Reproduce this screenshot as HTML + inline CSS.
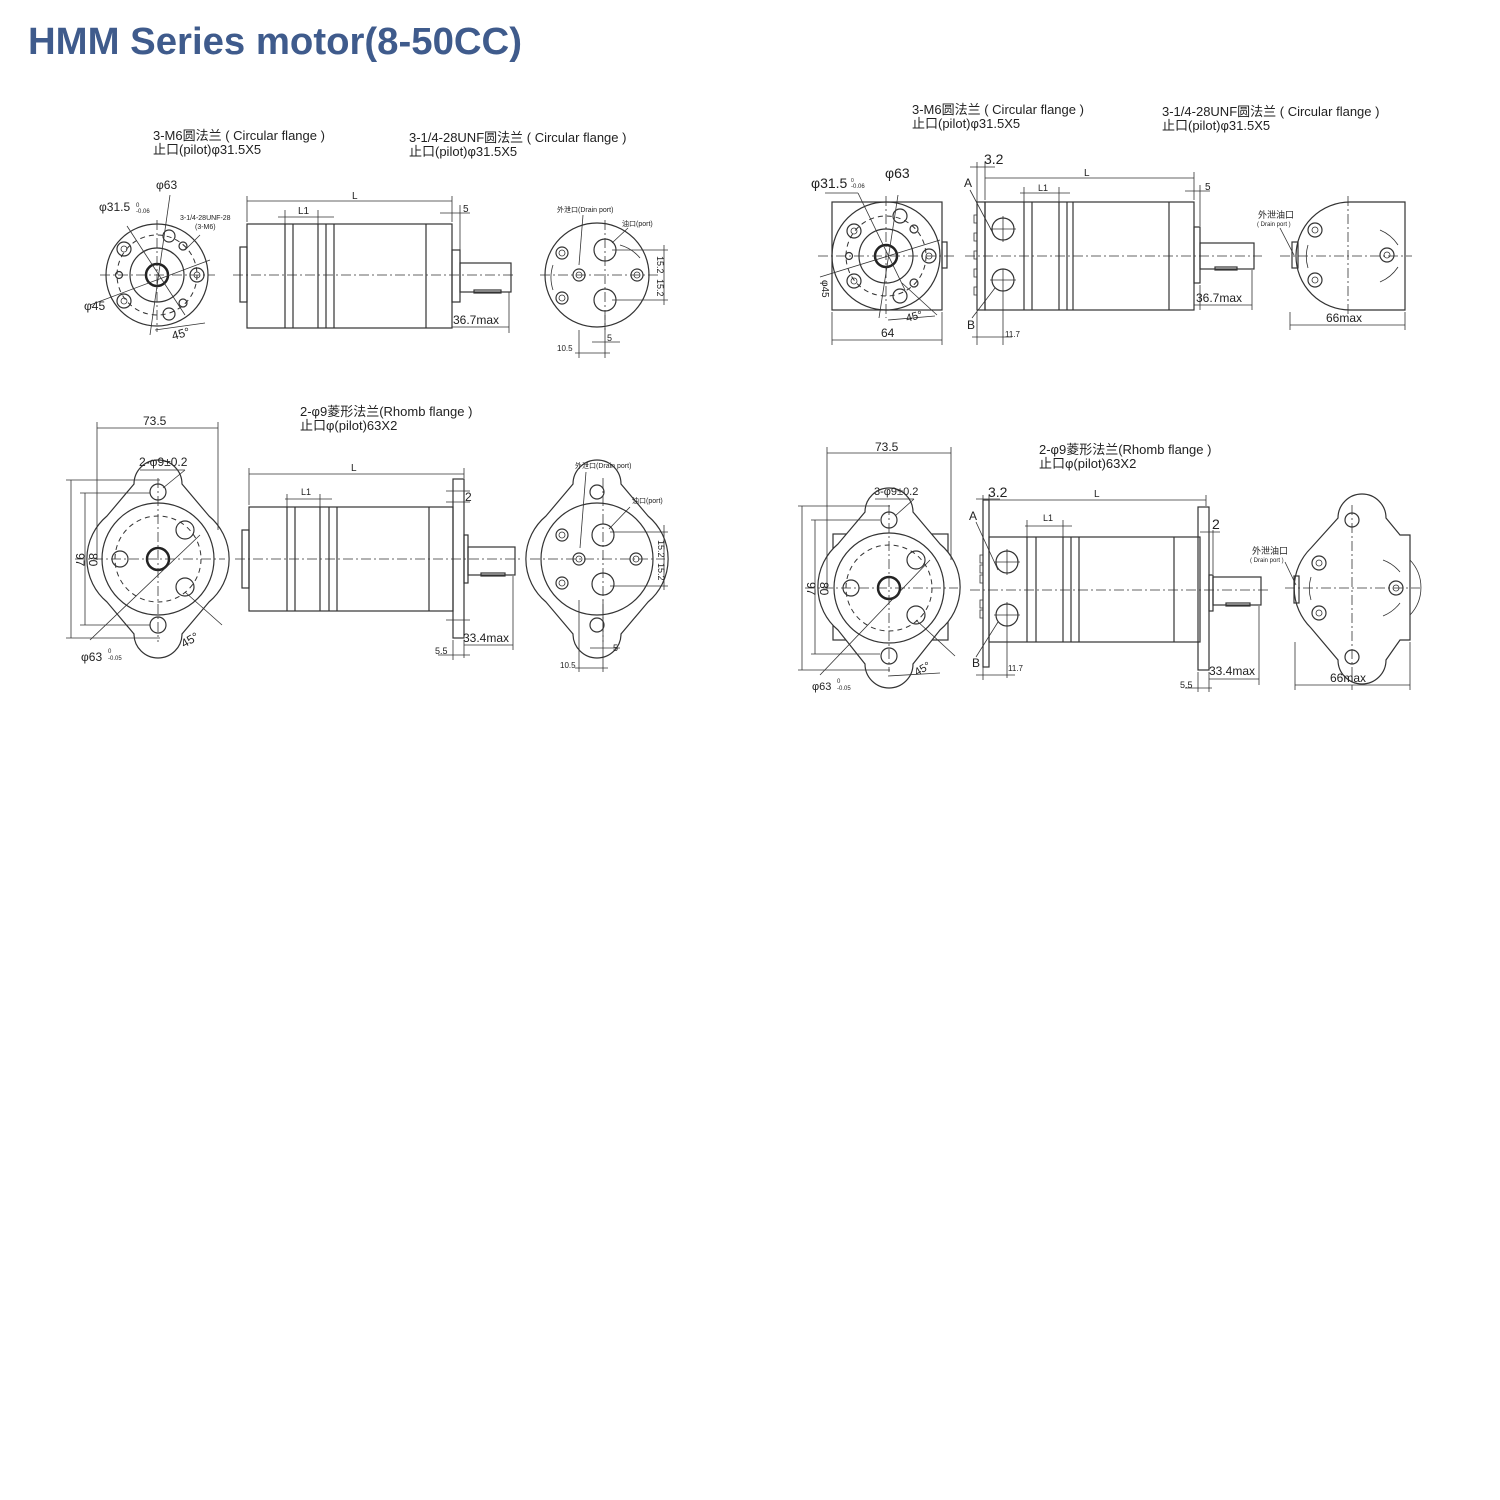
<!DOCTYPE html>
<html><head><meta charset="utf-8"><style>
html,body{margin:0;padding:0;background:#fff;width:1500px;height:1500px;overflow:hidden}
svg{display:block}
text{font-family:"Liberation Sans","Noto Sans CJK SC",sans-serif;fill:#222}
.l{stroke:#333;stroke-width:1.2;fill:none}
.t{stroke:#333;stroke-width:0.8;fill:none}
.d{stroke:#333;stroke-width:0.8;fill:none;stroke-dasharray:10 3 2 3}
.ds{stroke:#333;stroke-width:1;fill:none;stroke-dasharray:5 4}
.k{stroke:#222;stroke-width:2.5;fill:none}
</style></head><body>
<svg width="1500" height="1500" viewBox="0 0 1500 1500" xmlns="http://www.w3.org/2000/svg">
<text x="28" y="54" font-size="38" font-weight="bold" style="fill:#3f5b8c" textLength="494" lengthAdjust="spacingAndGlyphs">HMM Series motor(8-50CC)</text>

<!-- ================= TOP LEFT ================= -->
<text x="153" y="140" font-size="13">3-M6圆法兰 ( Circular flange )</text>
<text x="153" y="154" font-size="13">止口(pilot)φ31.5X5</text>
<text x="409" y="142" font-size="13">3-1/4-28UNF圆法兰 ( Circular flange )</text>
<text x="409" y="156" font-size="13">止口(pilot)φ31.5X5</text>
<!-- front view -->
<g>
<circle class="l" cx="157" cy="275" r="51"/>
<circle class="ds" cx="157" cy="275" r="40"/>
<circle class="l" cx="157" cy="275" r="27"/>
<circle class="k" cx="157" cy="275" r="11"/>
<line class="d" x1="100" y1="275" x2="215" y2="275"/>
<line class="d" x1="157" y1="220" x2="157" y2="332"/>
<circle class="l" cx="124" cy="249" r="7"/><circle class="t" cx="124" cy="249" r="3"/>
<circle class="l" cx="124" cy="301" r="7"/><circle class="t" cx="124" cy="301" r="3"/>
<circle class="l" cx="197" cy="275" r="7"/><circle class="t" cx="197" cy="275" r="3"/>
<circle class="l" cx="169" cy="236" r="6"/><circle class="l" cx="169" cy="314" r="6"/>
<circle class="l" cx="183" cy="246" r="4"/><circle class="l" cx="183" cy="303" r="4"/>
<circle class="l" cx="119" cy="275" r="3.5"/>
<line class="t" x1="127" y1="226" x2="185" y2="315"/>
<line class="t" x1="90" y1="305" x2="210" y2="260"/>
<line class="t" x1="170" y1="195" x2="150" y2="335"/>
<line class="t" x1="185" y1="250" x2="200" y2="235"/>
<line class="t" x1="155" y1="330" x2="205" y2="323"/>
<text x="156" y="189" font-size="12">φ63</text>
<text x="99" y="211" font-size="12">φ31.5</text><text x="136" y="207" font-size="6">0</text><text x="136" y="213" font-size="6">-0.06</text>
<text x="180" y="220" font-size="7">3-1/4-28UNF-28</text><text x="195" y="229" font-size="7">(3-M6)</text>
<text x="84" y="310" font-size="12">φ45</text>
<text x="173" y="340" font-size="12" transform="rotate(-15 173 340)">45°</text>
</g>
<!-- side view -->
<g>
<rect class="l" x="240" y="247" width="7" height="55"/>
<rect class="l" x="247" y="224" width="205" height="104"/>
<line class="l" x1="285" y1="224" x2="285" y2="328"/><line class="l" x1="293" y1="224" x2="293" y2="328"/>
<line class="l" x1="318" y1="224" x2="318" y2="328"/><line class="l" x1="326" y1="224" x2="326" y2="328"/>
<line class="l" x1="334" y1="224" x2="334" y2="328"/><line class="l" x1="426" y1="224" x2="426" y2="328"/>
<rect class="l" x="452" y="250" width="8" height="52"/>
<rect class="l" x="460" y="263" width="51" height="29"/>
<rect class="l" x="474" y="290" width="27" height="3"/>
<line class="d" x1="233" y1="275" x2="515" y2="275"/>
<line class="t" x1="247" y1="196" x2="247" y2="222"/><line class="t" x1="452" y1="196" x2="452" y2="222"/>
<line class="t" x1="247" y1="201" x2="452" y2="201"/>
<text x="352" y="199" font-size="10">L</text>
<line class="t" x1="278" y1="217" x2="334" y2="217"/><line class="t" x1="285" y1="210" x2="285" y2="224"/><line class="t" x1="318" y1="210" x2="318" y2="224"/>
<text x="298" y="214" font-size="10">L1</text>
<line class="t" x1="440" y1="213" x2="470" y2="213"/><line class="t" x1="460" y1="205" x2="460" y2="250"/>
<text x="463" y="212" font-size="10">5</text>
<line class="t" x1="452" y1="327" x2="509" y2="327"/><line class="t" x1="509" y1="292" x2="509" y2="333"/>
<text x="453" y="324" font-size="12">36.7max</text>
</g>
<!-- port view -->
<g>
<circle class="l" cx="597" cy="275" r="52"/>
<line class="d" x1="540" y1="275" x2="660" y2="275"/>
<line class="d" x1="605" y1="220" x2="605" y2="330"/>
<circle class="l" cx="605" cy="250" r="11"/><circle class="l" cx="605" cy="300" r="11"/>
<circle class="l" cx="579" cy="275" r="6"/><circle class="t" cx="579" cy="275" r="3"/>
<circle class="l" cx="562" cy="253" r="6"/><circle class="t" cx="562" cy="253" r="3"/>
<circle class="l" cx="562" cy="298" r="6"/><circle class="t" cx="562" cy="298" r="3"/>
<circle class="l" cx="637" cy="275" r="6"/><circle class="t" cx="637" cy="275" r="3"/>
<path class="t" d="M620 245 A40 40 0 0 1 640 258 M553 265 A40 40 0 0 0 553 290"/>
<line class="t" x1="612" y1="250" x2="668" y2="250"/><line class="t" x1="612" y1="300" x2="668" y2="300"/>
<line class="t" x1="664" y1="245" x2="664" y2="305"/>
<text x="657" y="256" font-size="9" transform="rotate(90 657 256)">15.2</text>
<text x="657" y="279" font-size="9" transform="rotate(90 657 279)">15.2</text>
<line class="t" x1="583" y1="215" x2="579" y2="265"/>
<line class="t" x1="612" y1="243" x2="628" y2="228"/>
<text x="557" y="212" font-size="7">外泄口(Drain port)</text>
<text x="622" y="226" font-size="7">油口(port)</text>
<line class="t" x1="579" y1="330" x2="579" y2="358"/><line class="t" x1="605" y1="315" x2="605" y2="358"/>
<line class="t" x1="575" y1="353" x2="610" y2="353"/><line class="t" x1="592" y1="342" x2="620" y2="342"/>
<text x="557" y="351" font-size="8">10.5</text><text x="607" y="341" font-size="9">5</text>
</g>

<!-- ================= BOTTOM LEFT ================= -->
<text x="300" y="416" font-size="13">2-φ9菱形法兰(Rhomb flange )</text>
<text x="300" y="430" font-size="13">止口φ(pilot)63X2</text>
<g>
<path class="l" d="M134 484 A24 24 0 0 1 182 484 L209 516 A56 56 0 0 1 209 602 L182 634 A24 24 0 0 1 134 634 L107 602 A56 56 0 0 1 107 516 Z"/>
<circle class="l" cx="158" cy="559" r="56"/>
<circle class="ds" cx="158" cy="559" r="43"/>
<circle class="k" cx="158" cy="559" r="11"/>
<circle class="l" cx="158" cy="492" r="8"/><circle class="l" cx="158" cy="625" r="8"/>
<circle class="l" cx="120" cy="559" r="8"/>
<circle class="l" cx="185" cy="530" r="9"/><circle class="l" cx="185" cy="587" r="9"/>
<line class="d" x1="75" y1="559" x2="225" y2="559"/>
<line class="d" x1="158" y1="478" x2="158" y2="642"/>
<line class="t" x1="97" y1="422" x2="97" y2="560"/><line class="t" x1="218" y1="422" x2="218" y2="530"/>
<line class="t" x1="97" y1="428" x2="218" y2="428"/>
<text x="143" y="425" font-size="12">73.5</text>
<text x="139" y="466" font-size="12">2-φ9±0.2</text>
<line class="t" x1="140" y1="470" x2="185" y2="470"/><line class="t" x1="185" y1="470" x2="163" y2="488"/>
<line class="t" x1="66" y1="480" x2="160" y2="480"/><line class="t" x1="66" y1="638" x2="160" y2="638"/>
<line class="t" x1="71" y1="480" x2="71" y2="638"/>
<line class="t" x1="80" y1="493" x2="150" y2="493"/><line class="t" x1="80" y1="625" x2="150" y2="625"/>
<line class="t" x1="85" y1="493" x2="85" y2="625"/>
<text x="76" y="553" font-size="12" transform="rotate(90 76 553)">97</text>
<text x="89" y="553" font-size="12" transform="rotate(90 89 553)">80</text>
<line class="t" x1="90" y1="640" x2="200" y2="535"/>
<line class="t" x1="185" y1="592" x2="222" y2="625"/>
<text x="81" y="661" font-size="12">φ63</text><text x="108" y="653" font-size="6">0</text><text x="108" y="660" font-size="6">-0.05</text>
<text x="184" y="648" font-size="12" transform="rotate(-30 184 648)">45°</text>
</g>
<g>
<rect class="l" x="242" y="530" width="7" height="58"/>
<rect class="l" x="249" y="507" width="204" height="104"/>
<line class="l" x1="287" y1="507" x2="287" y2="611"/><line class="l" x1="295" y1="507" x2="295" y2="611"/>
<line class="l" x1="320" y1="507" x2="320" y2="611"/><line class="l" x1="329" y1="507" x2="329" y2="611"/>
<line class="l" x1="337" y1="507" x2="337" y2="611"/><line class="l" x1="429" y1="507" x2="429" y2="611"/>
<rect class="l" x="453" y="479" width="11" height="159"/>
<rect class="l" x="464" y="535" width="4" height="48"/>
<rect class="l" x="468" y="547" width="47" height="28"/>
<rect class="l" x="481" y="573" width="24" height="3"/>
<line class="d" x1="235" y1="559" x2="520" y2="559"/>
<line class="t" x1="249" y1="468" x2="249" y2="505"/><line class="t" x1="464" y1="468" x2="464" y2="478"/>
<line class="t" x1="249" y1="474" x2="464" y2="474"/><text x="351" y="471" font-size="10">L</text>
<line class="t" x1="285" y1="499" x2="332" y2="499"/><line class="t" x1="287" y1="494" x2="287" y2="507"/><line class="t" x1="320" y1="494" x2="320" y2="507"/>
<text x="301" y="495" font-size="9">L1</text>
<line class="t" x1="446" y1="491" x2="470" y2="491"/><line class="t" x1="446" y1="502" x2="470" y2="502"/>
<text x="465" y="501" font-size="12">2</text>
<line class="t" x1="464" y1="640" x2="464" y2="658"/><line class="t" x1="513" y1="576" x2="513" y2="650"/>
<line class="t" x1="464" y1="645" x2="513" y2="645"/>
<text x="463" y="642" font-size="12">33.4max</text>
<line class="t" x1="453" y1="640" x2="453" y2="660"/><line class="t" x1="438" y1="655" x2="470" y2="655"/>
<text x="435" y="654" font-size="9">5.5</text>
<line class="t" x1="446" y1="620" x2="470" y2="620"/>
</g>
<g>
<path class="l" d="M573 484 A24 24 0 0 1 621 484 L648 516 A56 56 0 0 1 648 602 L621 634 A24 24 0 0 1 573 634 L546 602 A56 56 0 0 1 546 516 Z"/>
<circle class="l" cx="597" cy="559" r="56"/>
<line class="d" x1="530" y1="559" x2="665" y2="559"/>
<line class="d" x1="603" y1="478" x2="603" y2="642"/>
<circle class="l" cx="597" cy="492" r="7"/><circle class="l" cx="597" cy="625" r="7"/>
<circle class="l" cx="603" cy="535" r="11"/><circle class="l" cx="603" cy="584" r="11"/>
<circle class="l" cx="579" cy="559" r="6"/><circle class="t" cx="579" cy="559" r="3"/>
<circle class="l" cx="562" cy="535" r="6"/><circle class="t" cx="562" cy="535" r="3"/>
<circle class="l" cx="562" cy="583" r="6"/><circle class="t" cx="562" cy="583" r="3"/>
<circle class="l" cx="636" cy="559" r="6"/><circle class="t" cx="636" cy="559" r="3"/>
<line class="t" x1="610" y1="532" x2="668" y2="532"/><line class="t" x1="610" y1="586" x2="668" y2="586"/>
<line class="t" x1="664" y1="525" x2="664" y2="590"/>
<text x="658" y="540" font-size="9" transform="rotate(90 658 540)">15.2</text>
<text x="658" y="563" font-size="9" transform="rotate(90 658 563)">15.2</text>
<line class="t" x1="586" y1="472" x2="580" y2="548"/>
<line class="t" x1="609" y1="529" x2="630" y2="507"/>
<text x="575" y="468" font-size="7">外泄口(Drain port)</text>
<text x="632" y="503" font-size="7">油口(port)</text>
<line class="t" x1="579" y1="600" x2="579" y2="672"/><line class="t" x1="603" y1="600" x2="603" y2="672"/>
<line class="t" x1="575" y1="668" x2="608" y2="668"/><line class="t" x1="590" y1="648" x2="620" y2="648"/>
<text x="560" y="668" font-size="8">10.5</text><text x="613" y="651" font-size="9">5</text>
</g>

<!-- ================= TOP RIGHT ================= -->
<text x="912" y="114" font-size="13">3-M6圆法兰 ( Circular flange )</text>
<text x="912" y="128" font-size="13">止口(pilot)φ31.5X5</text>
<text x="1162" y="116" font-size="13">3-1/4-28UNF圆法兰 ( Circular flange )</text>
<text x="1162" y="130" font-size="13">止口(pilot)φ31.5X5</text>
<g>
<rect class="l" x="832" y="202" width="110" height="108"/>
<rect class="l" x="942" y="242" width="5" height="26"/>
<circle class="l" cx="886" cy="256" r="54"/>
<circle class="ds" cx="886" cy="256" r="40"/>
<circle class="l" cx="886" cy="256" r="27"/>
<circle class="k" cx="886" cy="256" r="11"/>
<line class="d" x1="818" y1="256" x2="955" y2="256"/>
<line class="d" x1="886" y1="196" x2="886" y2="318"/>
<circle class="l" cx="854" cy="231" r="7"/><circle class="t" cx="854" cy="231" r="3"/>
<circle class="l" cx="854" cy="281" r="7"/><circle class="t" cx="854" cy="281" r="3"/>
<circle class="l" cx="929" cy="256" r="7"/><circle class="t" cx="929" cy="256" r="3"/>
<circle class="l" cx="900" cy="216" r="7"/><circle class="l" cx="900" cy="296" r="7"/>
<circle class="l" cx="914" cy="229" r="4"/><circle class="l" cx="914" cy="283" r="4"/>
<circle class="l" cx="849" cy="256" r="3.5"/>
<line class="t" x1="825" y1="193" x2="858" y2="193"/><line class="t" x1="858" y1="193" x2="905" y2="290"/>
<line class="t" x1="820" y1="277" x2="940" y2="240"/>
<line class="t" x1="898" y1="195" x2="879" y2="318"/>
<line class="t" x1="902" y1="283" x2="937" y2="315"/>
<line class="t" x1="888" y1="320" x2="935" y2="316"/>
<text x="811" y="188" font-size="14">φ31.5</text><text x="851" y="182" font-size="5">0</text><text x="851" y="188" font-size="6">-0.06</text>
<text x="885" y="178" font-size="14">φ63</text>
<text x="822" y="280" font-size="10" transform="rotate(90 822 280)">φ45</text>
<text x="907" y="322" font-size="11" transform="rotate(-15 907 322)">45°</text>
<line class="t" x1="832" y1="312" x2="832" y2="345"/><line class="t" x1="942" y1="312" x2="942" y2="345"/>
<line class="t" x1="832" y1="340" x2="942" y2="340"/><text x="881" y="337" font-size="12">64</text>
</g>
<g>
<rect class="l" x="977" y="202" width="8" height="108"/>
<path class="t" d="M977 215 h-3 v8 h3 M977 233 h-3 v8 h3 M977 251 h-3 v8 h3 M977 269 h-3 v8 h3 M977 287 h-3 v8 h3"/>
<rect class="l" x="985" y="202" width="209" height="108"/>
<line class="l" x1="1024" y1="202" x2="1024" y2="310"/><line class="l" x1="1032" y1="202" x2="1032" y2="310"/>
<line class="l" x1="1059" y1="202" x2="1059" y2="310"/><line class="l" x1="1067" y1="202" x2="1067" y2="310"/>
<line class="l" x1="1073" y1="202" x2="1073" y2="310"/><line class="l" x1="1169" y1="202" x2="1169" y2="310"/>
<rect class="l" x="1194" y="227" width="6" height="56"/>
<rect class="l" x="1200" y="243" width="54" height="26"/>
<rect class="l" x="1215" y="267" width="22" height="3"/>
<circle class="l" cx="1003" cy="229" r="11"/><circle class="l" cx="1003" cy="280" r="11"/>
<line class="t" x1="990" y1="229" x2="1016" y2="229"/><line class="t" x1="1003" y1="216" x2="1003" y2="242"/>
<line class="t" x1="990" y1="280" x2="1016" y2="280"/><line class="t" x1="1003" y1="269" x2="1003" y2="345"/>
<line class="t" x1="970" y1="190" x2="995" y2="237"/><line class="t" x1="972" y1="318" x2="995" y2="288"/>
<text x="964" y="187" font-size="12">A</text><text x="967" y="329" font-size="12">B</text>
<line class="d" x1="965" y1="256" x2="1262" y2="256"/>
<line class="t" x1="977" y1="162" x2="977" y2="202"/><line class="t" x1="985" y1="162" x2="985" y2="200"/>
<line class="t" x1="970" y1="167" x2="995" y2="167"/><text x="984" y="164" font-size="14">3.2</text>
<line class="t" x1="985" y1="178" x2="1194" y2="178"/><line class="t" x1="1194" y1="172" x2="1194" y2="200"/>
<text x="1084" y="176" font-size="10">L</text>
<line class="t" x1="1020" y1="193" x2="1070" y2="193"/><line class="t" x1="1024" y1="187" x2="1024" y2="202"/><line class="t" x1="1059" y1="187" x2="1059" y2="202"/>
<text x="1038" y="191" font-size="9">L1</text>
<line class="t" x1="1185" y1="191" x2="1210" y2="191"/><line class="t" x1="1200" y1="185" x2="1200" y2="226"/>
<text x="1205" y="190" font-size="10">5</text>
<line class="t" x1="1200" y1="285" x2="1200" y2="310"/><line class="t" x1="1252" y1="270" x2="1252" y2="310"/>
<line class="t" x1="1194" y1="305" x2="1252" y2="305"/><text x="1196" y="302" font-size="12">36.7max</text>
<line class="t" x1="972" y1="337" x2="1012" y2="337"/><line class="t" x1="977" y1="312" x2="977" y2="345"/>
<text x="1005" y="337" font-size="8">11.7</text>
</g>
<g>
<path class="l" d="M1350 202 L1405 202 L1405 310 L1350 310 A54 54 0 0 1 1350 202 Z"/>
<rect class="l" x="1292" y="242" width="6" height="26"/>
<line class="d" x1="1280" y1="256" x2="1412" y2="256"/>
<line class="d" x1="1348" y1="196" x2="1348" y2="318"/>
<circle class="l" cx="1315" cy="230" r="7"/><circle class="t" cx="1315" cy="230" r="3"/>
<circle class="l" cx="1315" cy="280" r="7"/><circle class="t" cx="1315" cy="280" r="3"/>
<circle class="l" cx="1387" cy="255" r="7"/><circle class="t" cx="1387" cy="255" r="3"/>
<path class="t" d="M1308 245 A40 40 0 0 0 1308 268 M1380 230 A40 40 0 0 1 1398 245 M1398 267 A40 40 0 0 1 1380 282"/>
<line class="t" x1="1280" y1="228" x2="1294" y2="255"/>
<text x="1258" y="218" font-size="9">外泄油口</text><text x="1257" y="226" font-size="6">( Drain port )</text>
<line class="t" x1="1290" y1="312" x2="1290" y2="330"/><line class="t" x1="1405" y1="312" x2="1405" y2="330"/>
<line class="t" x1="1290" y1="325" x2="1405" y2="325"/><text x="1326" y="322" font-size="12">66max</text>
</g>

<!-- ================= BOTTOM RIGHT ================= -->
<text x="1039" y="454" font-size="13">2-φ9菱形法兰(Rhomb flange )</text>
<text x="1039" y="468" font-size="13">止口φ(pilot)63X2</text>
<g>
<rect class="l" x="833" y="534" width="115" height="106"/>
<path class="l" d="M865 512 A24 24 0 0 1 913 512 L940 544 A56 56 0 0 1 940 630 L913 664 A24 24 0 0 1 865 664 L838 630 A56 56 0 0 1 838 544 Z" fill="#fff" style="fill:#fff"/>
<circle class="l" cx="889" cy="588" r="55"/>
<circle class="ds" cx="889" cy="588" r="43"/>
<circle class="k" cx="889" cy="588" r="11"/>
<circle class="l" cx="889" cy="520" r="8"/><circle class="l" cx="889" cy="656" r="8"/>
<circle class="l" cx="851" cy="588" r="8"/>
<circle class="l" cx="916" cy="560" r="9"/><circle class="l" cx="916" cy="615" r="9"/>
<line class="d" x1="805" y1="588" x2="958" y2="588"/>
<line class="d" x1="889" y1="505" x2="889" y2="672"/>
<line class="t" x1="827" y1="447" x2="827" y2="590"/><line class="t" x1="951" y1="447" x2="951" y2="560"/>
<line class="t" x1="827" y1="453" x2="951" y2="453"/><text x="875" y="451" font-size="12">73.5</text>
<text x="874" y="495" font-size="11">3-φ9±0.2</text>
<line class="t" x1="875" y1="499" x2="914" y2="499"/><line class="t" x1="914" y1="499" x2="895" y2="516"/>
<line class="t" x1="798" y1="506" x2="890" y2="506"/><line class="t" x1="798" y1="670" x2="890" y2="670"/>
<line class="t" x1="802" y1="506" x2="802" y2="670"/>
<line class="t" x1="811" y1="520" x2="880" y2="520"/><line class="t" x1="811" y1="654" x2="880" y2="654"/>
<line class="t" x1="815" y1="520" x2="815" y2="654"/>
<text x="807" y="582" font-size="12" transform="rotate(90 807 582)">97</text>
<text x="820" y="582" font-size="12" transform="rotate(90 820 582)">80</text>
<line class="t" x1="820" y1="675" x2="930" y2="560"/>
<line class="t" x1="916" y1="620" x2="955" y2="656"/>
<line class="t" x1="888" y1="676" x2="940" y2="673"/>
<text x="812" y="690" font-size="11">φ63</text><text x="837" y="683" font-size="6">0</text><text x="837" y="690" font-size="6">-0.05</text>
<text x="917" y="676" font-size="11" transform="rotate(-30 917 676)">45°</text>
</g>
<g>
<rect class="l" x="983" y="500" width="6" height="167"/>
<path class="t" d="M983 555 h-3 v8 h3 M983 565 h-3 v8 h3 M983 575 h-3 v8 h3 M983 600 h-3 v8 h3 M983 610 h-3 v8 h3"/>
<rect class="l" x="989" y="537" width="211" height="105"/>
<line class="l" x1="1027" y1="537" x2="1027" y2="642"/><line class="l" x1="1036" y1="537" x2="1036" y2="642"/>
<line class="l" x1="1063" y1="537" x2="1063" y2="642"/><line class="l" x1="1071" y1="537" x2="1071" y2="642"/>
<line class="l" x1="1079" y1="537" x2="1079" y2="642"/><line class="l" x1="1174" y1="537" x2="1174" y2="642"/>
<rect class="l" x="1198" y="507" width="11" height="163"/>
<rect class="l" x="1209" y="575" width="4" height="36"/>
<rect class="l" x="1213" y="577" width="48" height="28"/>
<rect class="l" x="1226" y="603" width="24" height="3"/>
<circle class="l" cx="1007" cy="562" r="11"/><circle class="l" cx="1007" cy="615" r="11"/>
<line class="t" x1="994" y1="562" x2="1020" y2="562"/><line class="t" x1="1007" y1="549" x2="1007" y2="575"/>
<line class="t" x1="994" y1="615" x2="1020" y2="615"/><line class="t" x1="1007" y1="602" x2="1007" y2="678"/>
<line class="t" x1="976" y1="522" x2="998" y2="570"/><line class="t" x1="976" y1="657" x2="998" y2="622"/>
<text x="969" y="520" font-size="12">A</text><text x="972" y="667" font-size="12">B</text>
<line class="d" x1="970" y1="590" x2="1268" y2="590"/>
<line class="t" x1="983" y1="495" x2="983" y2="500"/><line class="t" x1="989" y1="495" x2="989" y2="535"/>
<line class="t" x1="976" y1="499" x2="1000" y2="499"/><text x="988" y="497" font-size="14">3.2</text>
<line class="t" x1="989" y1="500" x2="1206" y2="500"/><line class="t" x1="1206" y1="495" x2="1206" y2="506"/>
<text x="1094" y="497" font-size="10">L</text>
<line class="t" x1="1025" y1="526" x2="1072" y2="526"/><line class="t" x1="1027" y1="520" x2="1027" y2="537"/><line class="t" x1="1063" y1="520" x2="1063" y2="537"/>
<text x="1043" y="521" font-size="9">L1</text>
<line class="t" x1="1200" y1="532" x2="1220" y2="532"/><line class="t" x1="1213" y1="530" x2="1213" y2="574"/>
<text x="1212" y="529" font-size="14">2</text>
<line class="t" x1="1209" y1="672" x2="1209" y2="692"/><line class="t" x1="1259" y1="606" x2="1259" y2="685"/>
<line class="t" x1="1209" y1="679" x2="1259" y2="679"/><text x="1209" y="675" font-size="12">33.4max</text>
<line class="t" x1="1198" y1="672" x2="1198" y2="692"/><line class="t" x1="1185" y1="688" x2="1212" y2="688"/>
<text x="1180" y="688" font-size="9">5.5</text>
<line class="t" x1="976" y1="675" x2="1015" y2="675"/><line class="t" x1="983" y1="667" x2="983" y2="680"/>
<text x="1008" y="671" font-size="8">11.7</text>
</g>
<g>
<path class="l" d="M1338 518 A24 24 0 0 1 1386 518 L1400 535 L1410 535 L1410 640 L1400 640 L1386 660 A24 24 0 0 1 1338 660 L1311 628 A56 56 0 0 1 1311 548 Z"/>
<path class="t" d="M1410 560 A40 40 0 0 1 1410 615"/>
<rect class="l" x="1294" y="576" width="5" height="27"/>
<line class="d" x1="1285" y1="588" x2="1420" y2="588"/>
<line class="d" x1="1352" y1="505" x2="1352" y2="690"/>
<circle class="l" cx="1352" cy="520" r="7"/><circle class="l" cx="1352" cy="657" r="7"/>
<circle class="l" cx="1319" cy="563" r="7"/><circle class="t" cx="1319" cy="563" r="3"/>
<circle class="l" cx="1319" cy="613" r="7"/><circle class="t" cx="1319" cy="613" r="3"/>
<circle class="l" cx="1396" cy="588" r="7"/><circle class="t" cx="1396" cy="588" r="3"/>
<path class="t" d="M1311 577 A40 40 0 0 0 1311 600 M1383 560 A40 40 0 0 1 1400 572 M1400 603 A40 40 0 0 1 1383 616"/>
<line class="t" x1="1285" y1="562" x2="1296" y2="585"/>
<text x="1252" y="554" font-size="9">外泄油口</text><text x="1250" y="562" font-size="6">( Drain port )</text>
<line class="t" x1="1295" y1="642" x2="1295" y2="690"/><line class="t" x1="1410" y1="642" x2="1410" y2="690"/>
<line class="t" x1="1295" y1="685" x2="1410" y2="685"/><text x="1330" y="682" font-size="12">66max</text>
</g>
</svg>
</body></html>
